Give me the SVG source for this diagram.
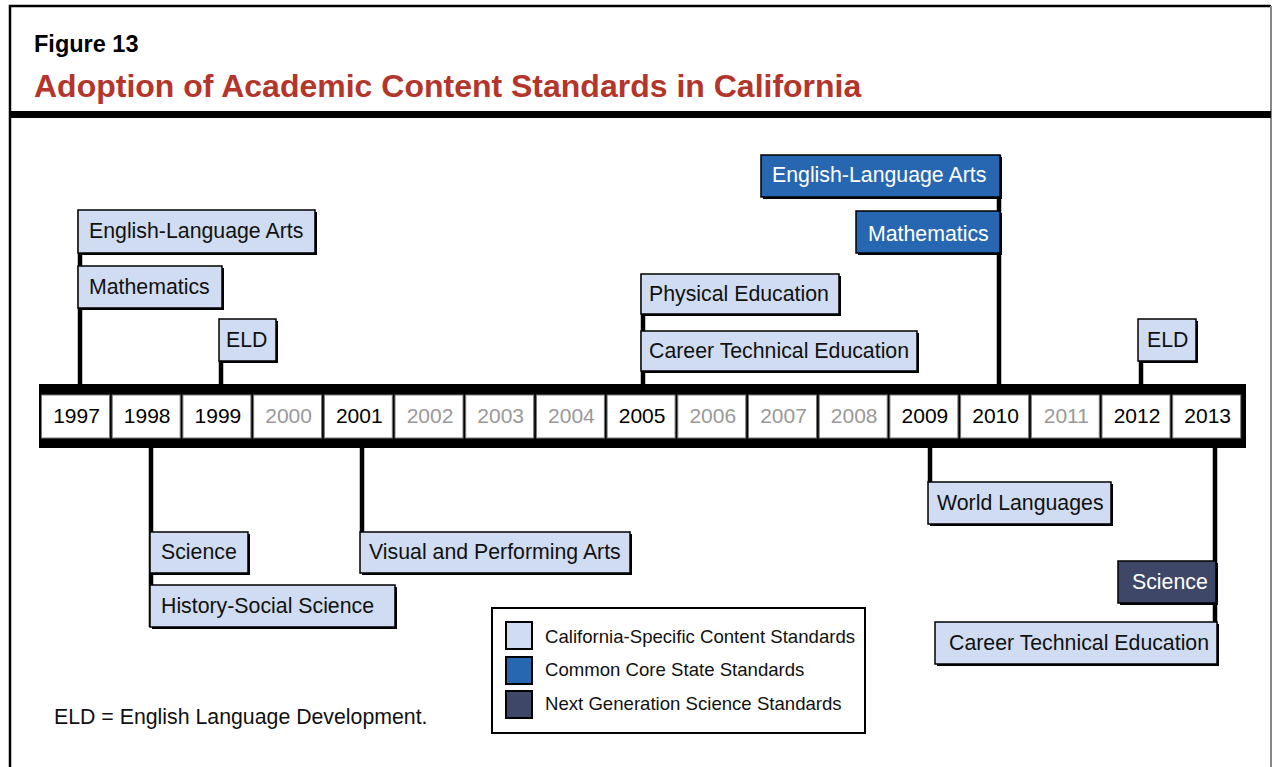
<svg xmlns="http://www.w3.org/2000/svg" width="1273" height="767" viewBox="0 0 1273 767">
<style>
text{font-family:"Liberation Sans",Arial,sans-serif}
.fig{font-size:23.5px;font-weight:bold;fill:#000}
.ttl{font-size:32px;font-weight:bold;fill:#B3352B}
.t{font-size:21.3px;fill:#111}
.tw{font-size:21.3px;fill:#fff}
.yr{font-size:21px;fill:#000;text-anchor:middle}
.yg{font-size:21px;fill:#999;text-anchor:middle}
.lg{font-size:18.6px;fill:#111}
.sh{fill:#000}
.ca{fill:#D0DCF1;stroke:#000;stroke-width:1.5}
.cc{fill:#2767B1;stroke:#000;stroke-width:1.5}
.ng{fill:#3E4767;stroke:#000;stroke-width:1.5}
.cell{fill:#fff;stroke:#777;stroke-width:1}
.ln{stroke:#000;stroke-width:4.5;fill:none}
</style>
<rect x="0" y="0" width="1273" height="767" fill="#fff"/>
<g id="frame">
<path d="M10,767 V6 H1271" fill="none" stroke="#000" stroke-width="2.5"/>
<path d="M1271,6 V767" fill="none" stroke="#888" stroke-width="2"/>
<rect x="10" y="111" width="1261" height="7" fill="#000"/>
<text class="fig" x="34" y="52">Figure 13</text>
<text class="ttl" x="34" y="97">Adoption of Academic Content Standards in California</text>
</g>
<g id="connectors">
<line class="ln" x1="80" y1="210" x2="80" y2="386"/>
<line class="ln" x1="221" y1="360" x2="221" y2="386"/>
<line class="ln" x1="643" y1="274" x2="643" y2="386"/>
<line class="ln" x1="999" y1="155" x2="999" y2="386"/>
<line class="ln" x1="1141" y1="360" x2="1141" y2="386"/>
<line class="ln" x1="151" y1="446" x2="151" y2="627"/>
<line class="ln" x1="362" y1="446" x2="362" y2="533"/>
<line class="ln" x1="930" y1="446" x2="930" y2="483"/>
<line class="ln" x1="1215" y1="446" x2="1215" y2="664"/>
</g>
<g id="timeline">
<rect x="39" y="384" width="1207" height="64" fill="#000"/>
<rect class="cell" x="41.5" y="395" width="68" height="43"/>
<rect class="cell" x="112.2" y="395" width="68" height="43"/>
<rect class="cell" x="182.9" y="395" width="68" height="43"/>
<rect class="cell" x="253.6" y="395" width="68" height="43"/>
<rect class="cell" x="324.3" y="395" width="68" height="43"/>
<rect class="cell" x="395" y="395" width="68" height="43"/>
<rect class="cell" x="465.7" y="395" width="68" height="43"/>
<rect class="cell" x="536.4" y="395" width="68" height="43"/>
<rect class="cell" x="607.1" y="395" width="68" height="43"/>
<rect class="cell" x="677.8" y="395" width="68" height="43"/>
<rect class="cell" x="748.5" y="395" width="68" height="43"/>
<rect class="cell" x="819.2" y="395" width="68" height="43"/>
<rect class="cell" x="889.9" y="395" width="68" height="43"/>
<rect class="cell" x="960.6" y="395" width="68" height="43"/>
<rect class="cell" x="1031.3" y="395" width="68" height="43"/>
<rect class="cell" x="1102" y="395" width="68" height="43"/>
<rect class="cell" x="1172.7" y="395" width="68" height="43"/>
<text class="yr" x="76.5" y="423">1997</text>
<text class="yr" x="147.2" y="423">1998</text>
<text class="yr" x="217.9" y="423">1999</text>
<text class="yg" x="288.6" y="423">2000</text>
<text class="yr" x="359.3" y="423">2001</text>
<text class="yg" x="430" y="423">2002</text>
<text class="yg" x="500.7" y="423">2003</text>
<text class="yg" x="571.4" y="423">2004</text>
<text class="yr" x="642.1" y="423">2005</text>
<text class="yg" x="712.8" y="423">2006</text>
<text class="yg" x="783.5" y="423">2007</text>
<text class="yg" x="854.2" y="423">2008</text>
<text class="yr" x="924.9" y="423">2009</text>
<text class="yr" x="995.6" y="423">2010</text>
<text class="yg" x="1066.3" y="423">2011</text>
<text class="yr" x="1137" y="423">2012</text>
<text class="yr" x="1207.7" y="423">2013</text>
</g>
<g id="n1997-ela"><rect class="sh" x="80" y="212" width="237" height="43"/><rect class="ca" x="78" y="210" width="237" height="43"/><text class="t" x="89" y="238">English-Language Arts</text></g>
<g id="n1997-math"><rect class="sh" x="80" y="268" width="144" height="42"/><rect class="ca" x="78" y="266" width="144" height="42"/><text class="t" x="89" y="294">Mathematics</text></g>
<g id="n1999-eld"><rect class="sh" x="221" y="321" width="57" height="42"/><rect class="ca" x="219" y="319" width="57" height="42"/><text class="t" x="226" y="347">ELD</text></g>
<g id="n2005-pe"><rect class="sh" x="643" y="276" width="198" height="40"/><rect class="ca" x="641" y="274" width="198" height="40"/><text class="t" x="649" y="301">Physical Education</text></g>
<g id="n2005-cte"><rect class="sh" x="643" y="333" width="276" height="40"/><rect class="ca" x="641" y="331" width="276" height="40"/><text class="t" x="649" y="358">Career Technical Education</text></g>
<g id="n2010-ela"><rect class="sh" x="763" y="157" width="239" height="42"/><rect class="cc" x="761" y="155" width="239" height="42"/><text class="tw" x="772" y="182">English-Language Arts</text></g>
<g id="n2010-math"><rect class="sh" x="858" y="213" width="144" height="42"/><rect class="cc" x="856" y="211" width="144" height="42"/><text class="tw" x="868" y="241">Mathematics</text></g>
<g id="n2012-eld"><rect class="sh" x="1140" y="321" width="58" height="42"/><rect class="ca" x="1138" y="319" width="58" height="42"/><text class="t" x="1147" y="347">ELD</text></g>
<g id="n1998-sci"><rect class="sh" x="152" y="534" width="98" height="41"/><rect class="ca" x="150" y="532" width="98" height="41"/><text class="t" x="161" y="559">Science</text></g>
<g id="n1998-hss"><rect class="sh" x="152" y="587" width="245" height="42"/><rect class="ca" x="150" y="585" width="245" height="42"/><text class="t" x="161" y="613">History-Social Science</text></g>
<g id="n2001-vpa"><rect class="sh" x="362" y="534" width="270" height="41"/><rect class="ca" x="360" y="532" width="270" height="41"/><text class="t" x="369" y="559">Visual and Performing Arts</text></g>
<g id="n2009-wl"><rect class="sh" x="930" y="484" width="183" height="42"/><rect class="ca" x="928" y="482" width="183" height="42"/><text class="t" x="937" y="510">World Languages</text></g>
<g id="n2013-sci"><rect class="sh" x="1120" y="563" width="98" height="42"/><rect class="ng" x="1118" y="561" width="98" height="42"/><text class="tw" x="1132" y="589">Science</text></g>
<g id="n2013-cte"><rect class="sh" x="937" y="624" width="282" height="42"/><rect class="ca" x="935" y="622" width="282" height="42"/><text class="t" x="949" y="650">Career Technical Education</text></g>
<g id="legend">
<rect x="492" y="608" width="373" height="125" fill="#fff" stroke="#000" stroke-width="2"/>
<rect x="506" y="622" width="26" height="27" fill="#D0DCF1" stroke="#000" stroke-width="2"/>
<rect x="506" y="657" width="26" height="27" fill="#2767B1" stroke="#000" stroke-width="2"/>
<rect x="506" y="691" width="26" height="27" fill="#3E4767" stroke="#000" stroke-width="2"/>
<text class="lg" x="545" y="643">California-Specific Content Standards</text>
<text class="lg" x="545" y="676">Common Core State Standards</text>
<text class="lg" x="545" y="710">Next Generation Science Standards</text>
</g>
<g id="note"><text class="t" x="54" y="724">ELD = English Language Development.</text></g>
</svg>
